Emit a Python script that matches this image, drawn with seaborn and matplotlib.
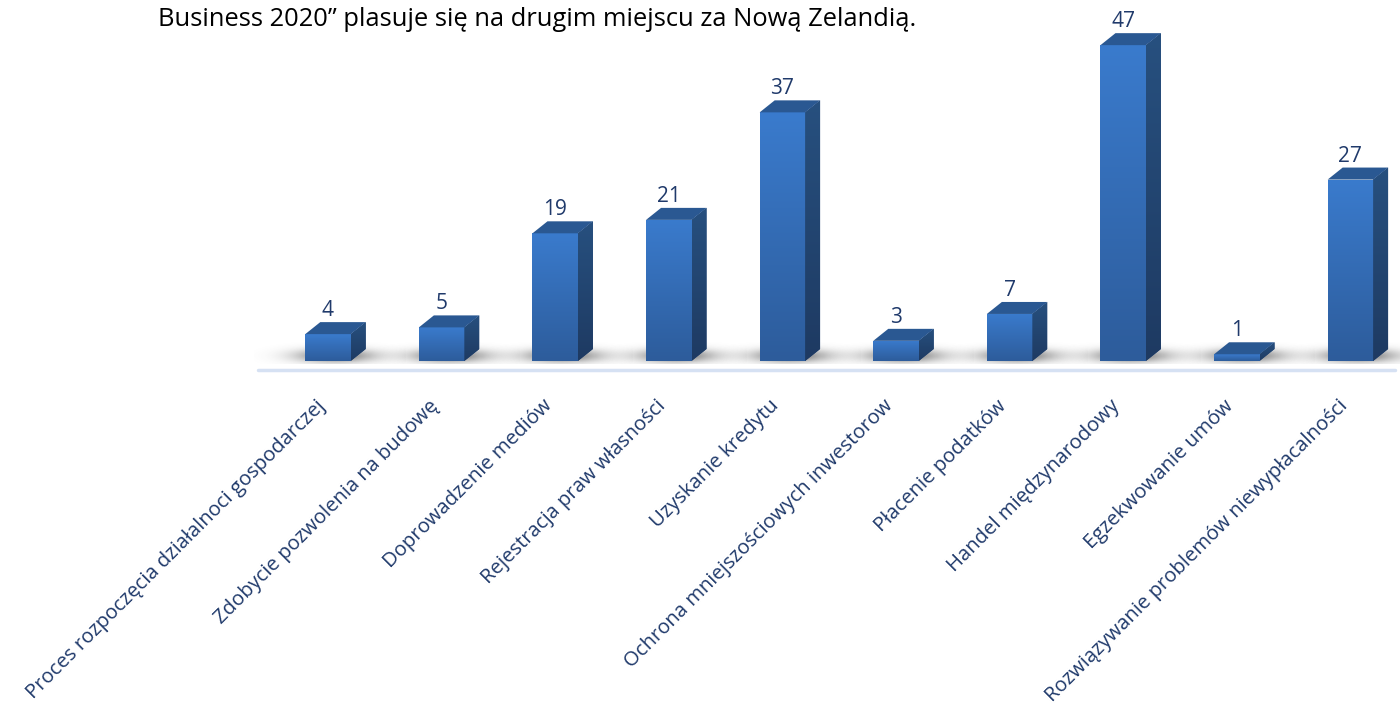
import numpy as np
import pandas as pd
import seaborn as sns
import matplotlib.pyplot as plt
from matplotlib.colors import LinearSegmentedColormap
from matplotlib.patches import Polygon
from matplotlib.transforms import ScaledTranslation

categories = [
    "Proces rozpoczęcia działalnoci gospodarczej",
    "Zdobycie pozwolenia na budowę",
    "Doprowadzenie mediów",
    "Rejestracja praw własności",
    "Uzyskanie kredytu",
    "Ochrona mniejszościowych inwestorow",
    "Płacenie podatków",
    "Handel międzynarodowy",
    "Egzekwowanie umów",
    "Rozwiązywanie problemów niewypłacalności",
]
values = [4, 5, 19, 21, 37, 3, 7, 47, 1, 27]
header = "Business 2020” plasuje się na drugim miejscu za Nową Zelandią."

df = pd.DataFrame({"Obszar": categories, "Pozycja": values})

sns.set_theme(style="white")
plt.rcParams['font.family'] = ['Open Sans', 'DejaVu Sans']

W, H = 1400, 708
fig = plt.figure(figsize=(W / 100, H / 100), dpi=100)
ax_left, ax_bottom_px = 250, 380          # pixels (bottom measured from top)
ax = fig.add_axes([ax_left / W, (H - ax_bottom_px) / H, (W - ax_left) / W, ax_bottom_px / H])

# scales: 113.6 px per category, 6.72 px per unit
px_x, px_y = 113.6, 6.72
x0_px, base_px = 328, 361
xlim = ((ax_left - x0_px) / px_x, (W - x0_px) / px_x)
ylo = -(ax_bottom_px - base_px) / px_y
ylim = (ylo, ylo + ax_bottom_px / px_y)

sns.barplot(data=df, x="Obszar", y="Pozycja", color="#3672C2", width=0.4,
            ax=ax, zorder=3, linewidth=0)

front_cmap = LinearSegmentedColormap.from_list("front", ["#2D5C9B", "#3A7BCD"])
side_cmap = LinearSegmentedColormap.from_list("side", ["#1E3A62", "#27507F"])
grad = np.linspace(0, 1, 256).reshape(-1, 1)

dx, dy = 15 / px_x, 12 / px_y
for p, v in zip(list(ax.patches), values):
    x0, w, h = p.get_x(), p.get_width(), p.get_height()

    # soft floor shadow
    xs = np.linspace(x0 - 0.45, x0 + w + dx + 0.35, 120)
    ys = np.linspace(-0.4, 2.8, 40)
    xc = x0 + w / 2 + dx / 2
    sx = np.exp(-((xs - xc) / (w * 0.85)) ** 2)
    sy = np.exp(-((ys - 0.8) / 1.0) ** 2)
    img = np.zeros((len(ys), len(xs), 4))
    img[..., :3] = 0.25
    img[..., 3] = 0.7 * np.outer(sy, sx)
    ax.imshow(img, extent=[xs[0], xs[-1], ys[0], ys[-1]], origin="lower",
              aspect="auto", zorder=1, interpolation="bilinear")

    # front gradient
    im = ax.imshow(grad, extent=[x0, x0 + w, 0, h], origin="lower", cmap=front_cmap,
                   aspect="auto", zorder=3.5)
    im.set_clip_path(p)

    side = Polygon([(x0 + w, 0), (x0 + w + dx, dy), (x0 + w + dx, h + dy), (x0 + w, h)],
                   closed=True, facecolor="#234677", edgecolor="none", zorder=3)
    ax.add_patch(side)
    sim = ax.imshow(grad, extent=[x0 + w, x0 + w + dx, 0, h + dy], origin="lower",
                    cmap=side_cmap, aspect="auto", zorder=3.5)
    sim.set_clip_path(side)

    top = Polygon([(x0, h), (x0 + dx, h + dy), (x0 + w + dx, h + dy), (x0 + w, h)],
                  closed=True, facecolor="#2A5892", edgecolor="none", zorder=4)
    ax.add_patch(top)

    ax.text(x0 + w / 2, h + dy + 6 / px_y, str(v), ha="center", va="baseline",
            fontsize=15, color="#203A6B", zorder=5)

ax.set_xlim(*xlim)
ax.set_ylim(*ylim)

# floor line
ax.axhline(-(370 - base_px) / px_y, xmin=(258 - ax_left) / (W - ax_left),
           xmax=(1395 - ax_left) / (W - ax_left), color="#D6E1F3", lw=2.5, zorder=0)

sns.despine(ax=ax, left=True, bottom=True)
ax.set_yticks([])
ax.set_xlabel("")
ax.set_ylabel("")
ax.tick_params(axis="x", length=0, pad=16.5)
shift = ScaledTranslation(-6 / 100, 0, fig.dpi_scale_trans)
for lab in ax.get_xticklabels():
    lab.set_rotation(45)
    lab.set_ha("right")
    lab.set_va("center")
    lab.set_rotation_mode("anchor")
    lab.set_fontsize(14.6)
    lab.set_color("#203A6B")
    lab.set_transform(lab.get_transform() + shift)

fig.text(158 / W, 1 - 20 / H, header, fontsize=18.4, color="black", va="center", ha="left")

fig.savefig("out.png", dpi=100)
